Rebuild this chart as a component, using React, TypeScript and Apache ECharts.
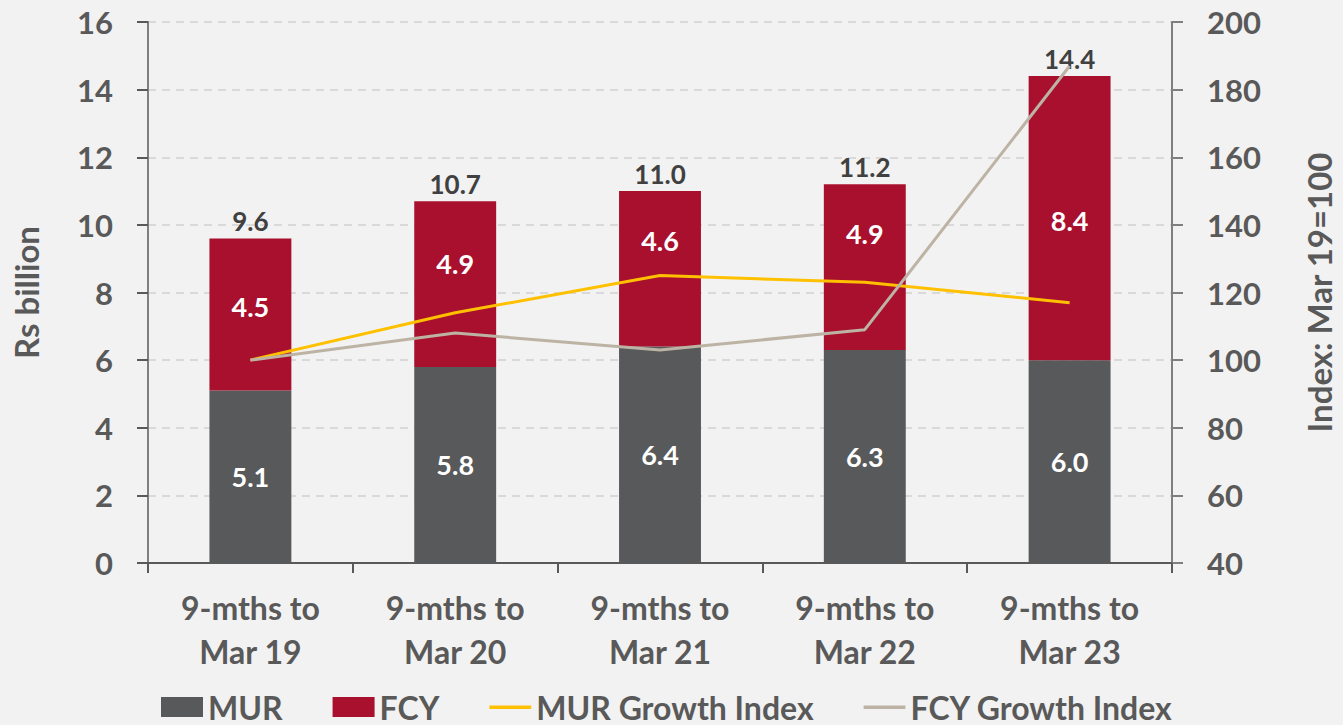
import React, { useEffect, useRef } from "react";
import * as echarts from "echarts";

const categories = ["9-mths to\nMar 19", "9-mths to\nMar 20", "9-mths to\nMar 21", "9-mths to\nMar 22", "9-mths to\nMar 23"];
const murValues = [5.1, 5.8, 6.4, 6.3, 6.0];
const fcyValues = [4.5, 4.9, 4.6, 4.9, 8.4];
const totals = [9.6, 10.7, 11.0, 11.2, 14.4];
const murIndex = [100, 114, 125, 123, 117];
const fcyIndex = [100, 108, 103, 109, 187];

// label nudges (style only), px shift of the FCY value labels as placed in the source
const fcyLabelShift = [-8, -21, -28, -34, 2];

const FONT = "Lato";
const TXT = "#595959";
const LINE_ICON = "path://M0,0h0.1v0.1h-0.1z M0,20h0.1v0.1h-0.1z M0,8.5h42v3.5h-42z";

export default function App() {
  const ref = useRef<HTMLDivElement>(null);
  useEffect(() => {
    if (!ref.current) return;
    const chart = echarts.init(ref.current, null, { renderer: "svg" });
    chart.setOption({
      animation: false,
      backgroundColor: "#F2F2F2",
      textStyle: { fontFamily: FONT, fontWeight: "bold", color: TXT },
      grid: { left: 148, right: 168, top: 22, bottom: 162, containLabel: false },
      legend: {
        top: 690,
        left: 161,
        padding: 0,
        itemWidth: 42,
        itemHeight: 20,
        itemGap: 50,
        textStyle: { fontFamily: FONT, fontWeight: "bold", fontSize: 32, lineHeight: 34, color: TXT },
        data: [
          { name: "MUR", icon: "rect" },
          { name: "FCY", icon: "rect" },
          { name: "MUR Growth Index", icon: LINE_ICON },
          { name: "FCY Growth Index", icon: LINE_ICON },
        ],
      },
      xAxis: {
        type: "category",
        data: categories,
        axisLine: { lineStyle: { color: "#595959", width: 2 } },
        axisTick: { show: true, length: 10, lineStyle: { color: "#595959", width: 2 } },
        axisLabel: {
          margin: 22,
          fontFamily: FONT,
          fontWeight: "bold",
          fontSize: 32,
          lineHeight: 44,
          color: TXT,
        },
      },
      yAxis: [
        {
          type: "value",
          min: 0,
          max: 16,
          interval: 2,
          name: "Rs billion",
          nameLocation: "middle",
          nameGap: 106,
          nameTextStyle: { fontFamily: FONT, fontWeight: "bold", fontSize: 33, color: TXT },
          axisLine: { show: true, lineStyle: { color: "#7F7F7F", width: 2 } },
          axisTick: { show: true, length: 11, lineStyle: { color: "#595959", width: 2 } },
          axisLabel: { margin: 35, fontFamily: FONT, fontWeight: "bold", fontSize: 31, color: TXT },
          splitLine: { show: true, lineStyle: { color: "#D9D9D9", width: 2, type: [8, 6] } },
        },
        {
          type: "value",
          min: 40,
          max: 200,
          interval: 20,
          position: "right",
          name: "Index: Mar 19=100",
          nameLocation: "middle",
          nameGap: 130,
          nameTextStyle: { fontFamily: FONT, fontWeight: "bold", fontSize: 33, color: TXT },
          axisLine: { show: true, lineStyle: { color: "#7F7F7F", width: 2 } },
          axisTick: { show: true, length: 11, lineStyle: { color: "#7F7F7F", width: 2 } },
          axisLabel: { margin: 35, fontFamily: FONT, fontWeight: "bold", fontSize: 31, color: TXT },
          splitLine: { show: false },
        },
      ],
      series: [
        {
          name: "MUR",
          type: "bar",
          stack: "total",
          data: murValues,
          barWidth: "40%",
          itemStyle: { color: "#58595B" },
          label: {
            show: true,
            position: "inside",
            fontFamily: FONT,
            fontWeight: "bold",
            fontSize: 27,
            color: "#FFFFFF",
            formatter: (p: any) => p.value.toFixed(1),
          },
        },
        {
          name: "FCY",
          type: "bar",
          stack: "total",
          data: fcyValues.map((v, i) => ({
            value: v,
            label: { offset: [0, fcyLabelShift[i]] },
          })),
          barWidth: "40%",
          itemStyle: { color: "#A8102E" },
          label: {
            show: true,
            position: "inside",
            fontFamily: FONT,
            fontWeight: "bold",
            fontSize: 27,
            color: "#FFFFFF",
            formatter: (p: any) => Number(p.value).toFixed(1),
          },
        },
        {
          name: "Totals",
          type: "bar",
          stack: "total",
          data: totals.map(() => 0),
          barWidth: "40%",
          itemStyle: { color: "transparent" },
          silent: true,
          label: {
            show: true,
            position: "top",
            distance: 4,
            fontFamily: FONT,
            fontWeight: "bold",
            fontSize: 26,
            color: "#404040",
            formatter: (p: any) => totals[p.dataIndex].toFixed(1),
          },
        },
        {
          name: "MUR Growth Index",
          type: "line",
          yAxisIndex: 1,
          data: murIndex,
          symbol: "none",
          lineStyle: { color: "#FFC000", width: 3 },
          itemStyle: { color: "#FFC000" },
        },
        {
          name: "FCY Growth Index",
          type: "line",
          yAxisIndex: 1,
          data: fcyIndex,
          symbol: "none",
          lineStyle: { color: "#BCB3A4", width: 3 },
          itemStyle: { color: "#BCB3A4" },
        },
      ],
    });
    return () => chart.dispose();
  }, []);
  return (
    <div
      ref={ref}
      style={{ position: "fixed", left: 0, top: 0, width: 1343, height: 725 }}
    />
  );
}
